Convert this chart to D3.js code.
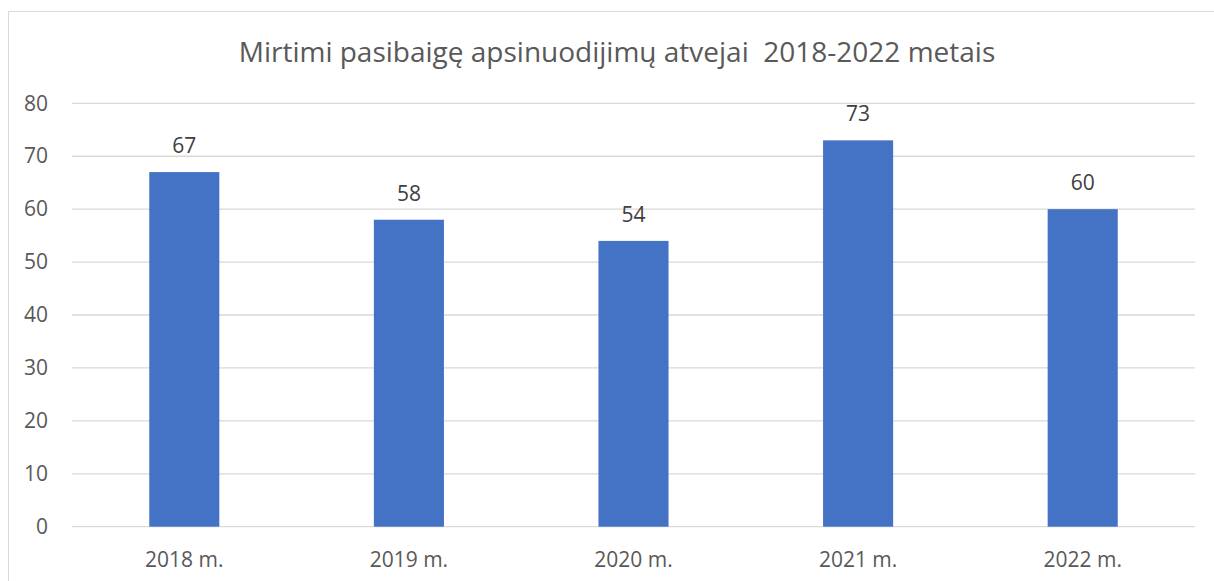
<!DOCTYPE html>
<html>
<head>
<meta charset="utf-8">
<script src="https://cdn.jsdelivr.net/npm/d3@7"></script>
<style>
  html, body { margin: 0; padding: 0; background: #fff; }
  svg { display: block; font-family: "Open Sans", "Noto Sans", sans-serif; }
</style>
</head>
<body>
<div id="chart"></div>
<script>
// chart data
const years = ['2018 m.', '2019 m.', '2020 m.', '2021 m.', '2022 m.'];
const deaths = [67, 58, 54, 73, 60];
const yTicks = [0, 10, 20, 30, 40, 50, 60, 70, 80];
const title = 'Mirtimi pasibaigę apsinuodijimų atvejai  2018-2022 metais';

const width = 1214, height = 581;
const margin = { top: 103.3, right: 19, bottom: 54.3, left: 72 };

const svg = d3.select('#chart').append('svg')
    .attr('width', width)
    .attr('height', height);

// outer chart border (runs off right/bottom edge)
svg.append('rect')
    .attr('x', 8.5).attr('y', 11.5)
    .attr('width', 1220).attr('height', 600)
    .attr('fill', 'none')
    .attr('stroke', '#d9d9d9');

const x = d3.scaleBand()
    .domain(years)
    .range([margin.left, width - margin.right])
    .paddingInner(0.688)
    .paddingOuter(0.344);

const y = d3.scaleLinear()
    .domain([0, 80])
    .range([height - margin.bottom, margin.top]);

// gridlines
svg.append('g')
    .selectAll('line')
    .data(yTicks)
    .enter().append('line')
    .attr('x1', margin.left)
    .attr('x2', width - margin.right)
    .attr('y1', d => y(d))
    .attr('y2', d => y(d))
    .style('stroke', '#d9d9d9')
    .style('stroke-width', 1.3);

// y axis labels
const yAxis = svg.append('g')
    .attr('transform', `translate(${margin.left},0)`)
    .call(d3.axisLeft(y).tickValues(yTicks).tickSize(0).tickPadding(24));
yAxis.select('.domain').remove();
yAxis.selectAll('text')
    .style('font-size', '21px')
    .style('fill', '#595959')
    .style('font-family', '"Open Sans", sans-serif');

// x axis labels
const xAxis = svg.append('g')
    .attr('transform', `translate(0,${y(0)})`)
    .call(d3.axisBottom(x).tickSize(0).tickPadding(25));
xAxis.select('.domain').remove();
xAxis.selectAll('text')
    .style('font-size', '21px')
    .style('fill', '#595959')
    .style('font-family', '"Open Sans", sans-serif');

// bars
svg.append('g')
    .selectAll('rect')
    .data(deaths)
    .enter().append('rect')
    .attr('x', (d, i) => x(years[i]))
    .attr('y', d => y(d))
    .attr('width', x.bandwidth())
    .attr('height', d => y(0) - y(d))
    .style('fill', '#4472c4');

// data labels
svg.append('g')
    .selectAll('text')
    .data(deaths)
    .enter().append('text')
    .attr('x', (d, i) => x(years[i]) + x.bandwidth() / 2)
    .attr('y', d => y(d) - 19)
    .attr('text-anchor', 'middle')
    .style('font-size', '21px')
    .style('fill', '#404040')
    .text(d => d);

// title
svg.append('text')
    .attr('x', 617)
    .attr('y', 62)
    .attr('text-anchor', 'middle')
    .style('font-size', '28px')
    .style('fill', '#595959')
    .style('white-space', 'pre')
    .attr('xml:space', 'preserve')
    .text(title);
</script>
</body>
</html>
